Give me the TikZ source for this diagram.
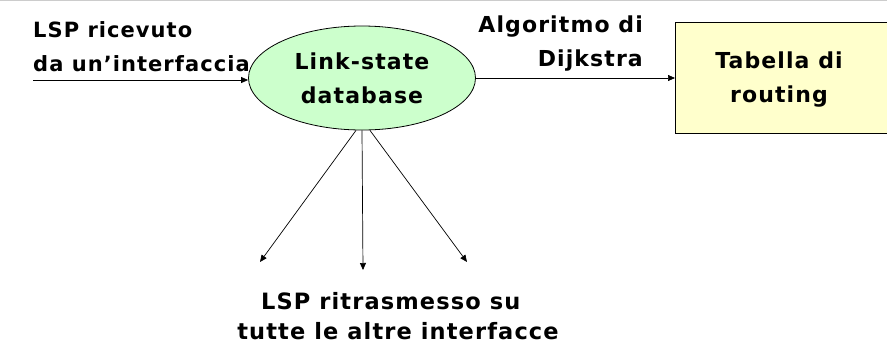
\documentclass[tikz,border=0pt]{standalone}
\usepackage{fontspec}
\setmainfont{DejaVu Sans}[LetterSpace=5]
\usetikzlibrary{shapes.geometric,arrows.meta}
\begin{document}
\begin{tikzpicture}[x=1pt,y=-1pt,
  lbl/.style={font=\fontsize{22}{34}\selectfont\bfseries, inner sep=0pt, align=center},
  conn/.style={-{Triangle[length=7pt,width=6pt]}, line width=0.7pt}]
\useasboundingbox (0,0) rectangle (887,349);
\draw[gray!40, line width=1.5pt] (0,0.5) -- (887,0.5);
\node[ellipse, draw=black, line width=0.8pt, fill={rgb,255:red,204;green,255;blue,204},
  minimum width=227pt, minimum height=104pt, inner sep=0pt, lbl] (db) at (362,78) {Link-state\\database};
\node[draw=black, line width=0.8pt, fill={rgb,255:red,255;green,255;blue,204},
  minimum width=240pt, minimum height=111pt, inner sep=0pt, anchor=west] (tab) at (675,78) {};
\node[lbl] (tabt) at (779,80) {Tabella di\\routing};
\node[lbl, font=\fontsize{21}{34}\selectfont\bfseries, align=left, anchor=west] (in) at (33,47) {LSP ricevuto\\da un'interfaccia};
\node[lbl, align=right, anchor=east] (alg) at (643,44) {Algoritmo di\\Dijkstra};
\node[lbl, font=\fontsize{22.5}{30}\selectfont\bfseries] (out) at (398,316) {LSP ritrasmesso su\phantom{x}\\tutte le altre interfacce};
\coordinate (src) at (33,80);
\coordinate (o1) at (260,262);
\coordinate (o2) at (363,270);
\coordinate (o3) at (467,262);
\draw[conn] (src) -- (db.west |- src);
\draw[conn] (db.east) -- (tab.west |- db.east);
\draw[conn] (db.south) ++(-6,0) coordinate (s1) (s1) -- (o1);
\draw[conn] (db.south) -- (o2);
\draw[conn] (db.south) ++(8,0) coordinate (s3) (s3) -- (o3);
\end{tikzpicture}
\end{document}
